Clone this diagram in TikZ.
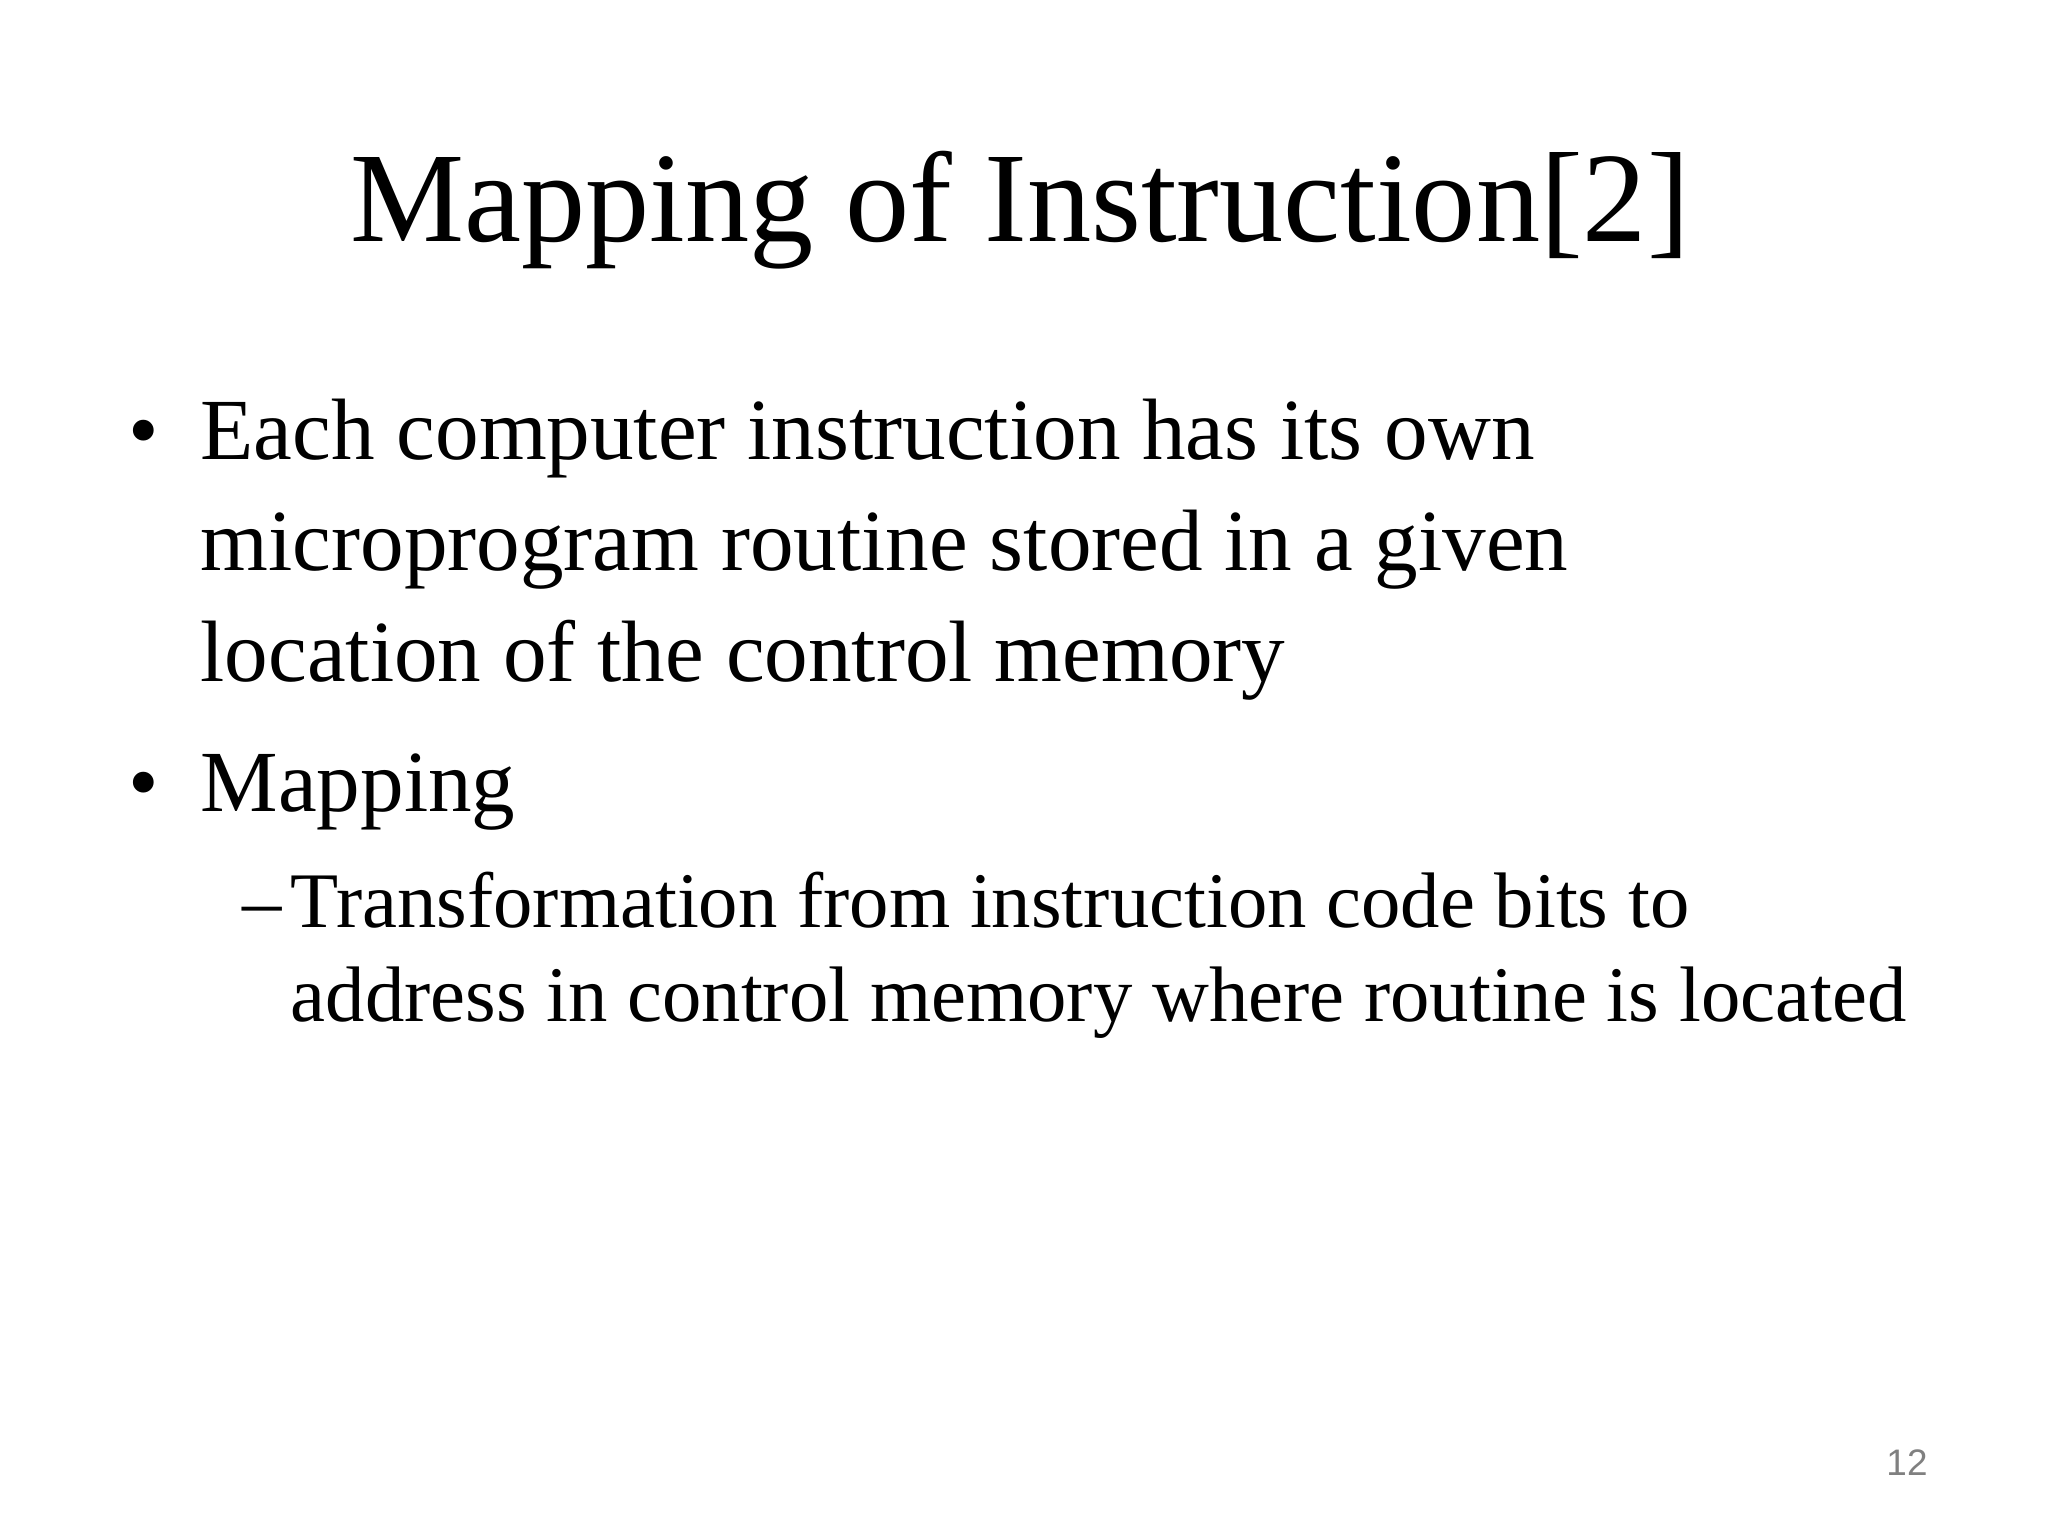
\documentclass[tikz,border=0pt]{standalone}
\usepackage{fontspec}
\setmainfont{Liberation Serif}
\newfontfamily\pgnum{Liberation Sans}
\begin{document}
\begin{tikzpicture}[x=1cm,y=1cm,
  body/.style={anchor=base west,inner sep=0pt,font=\fontsize{24.8}{30}\selectfont},
  sub/.style={anchor=base west,inner sep=0pt,font=\fontsize{22.4}{27}\selectfont}]
\useasboundingbox (0,0) rectangle (20.48,-15.36);
\node[anchor=base,inner sep=0pt,font=\fontsize{36.5}{44}\selectfont] (title) at (10.2,-2.42) {Mapping of Instruction[2]};
\node[body] (b1) at (1.28,-4.60) {\textbullet};
\node[body] (l1) at (2.0,-4.60) {Each computer instruction has its own};
\node[body] (l2) at (2.0,-5.71) {microprogram routine stored in a given};
\node[body] (l3) at (2.0,-6.82) {location of the control memory};
\node[body] (b2) at (1.28,-8.12) {\textbullet};
\node[body] (l4) at (2.0,-8.12) {Mapping};
\node[sub] (d1) at (2.42,-9.27) {--};
\node[sub] (l5) at (2.9,-9.27) {Transformation from instruction code bits to};
\node[sub] (l6) at (2.9,-10.21) {address in control memory where routine is located};
\node[anchor=base,inner sep=0pt,text=gray,font=\pgnum\fontsize{10.5}{12}\selectfont] (pg) at (19.07,-14.75) {12};
\end{tikzpicture}
\end{document}
